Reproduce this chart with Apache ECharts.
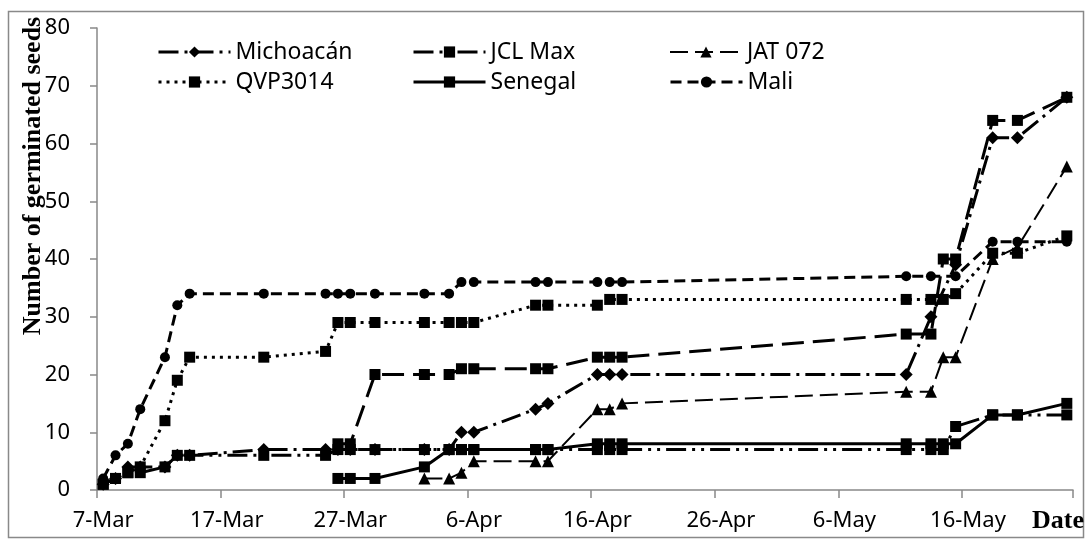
<!DOCTYPE html>
<html><head><meta charset="utf-8">
<script src="https://cdn.jsdelivr.net/npm/echarts@6/dist/echarts.min.js"></script>
<style>html,body{margin:0;padding:0;background:#fff}#c{width:1087px;height:539px}</style>
</head><body><div id="c"></div>
<script>
// Observation dates (shared by all series)
const dates = ['7-Mar','8-Mar','9-Mar','10-Mar','12-Mar','13-Mar','14-Mar','20-Mar','25-Mar','26-Mar','27-Mar','29-Mar','2-Apr','4-Apr','5-Apr','6-Apr','11-Apr','12-Apr','16-Apr','17-Apr','18-Apr','11-May','13-May','14-May','15-May','18-May','20-May','24-May'];
// Number of germinated seeds per series (null = not plotted)
const michoacan = [1,2,4,4,4,6,6,7,7,7,7,7,7,7,10,10,14,15,20,20,20,20,30,null,39,61,61,68];
const jclMax    = [1,2,3,3,4,6,6,6,6,7,7,7,7,7,7,7,7,7,7,7,7,7,7,7,11,13,13,13];
const jat072    = [null,null,null,null,null,null,null,null,null,null,null,null,2,2,3,5,5,5,14,14,15,17,17,23,23,40,42,56];
const qvp3014   = [1,2,3,4,12,19,23,23,24,29,29,29,29,29,29,29,32,32,32,33,33,33,33,33,34,41,41,44];
const senegal   = [null,null,null,null,null,null,null,null,null,2,2,2,4,7,7,7,7,7,8,8,8,8,8,8,8,13,13,15];
const mali      = [2,6,8,14,23,32,34,34,34,34,34,34,34,34,36,36,36,36,36,36,36,37,37,null,37,43,43,43];
const extraSeries = [null,null,null,null,null,null,null,null,null,8,8,20,20,20,21,21,21,21,23,23,23,27,27,40,40,64,64,68];

// Date axis: one category per day from 7-Mar to 24-May, labelled every 10 days
const monthNames = ['Jan','Feb','Mar','Apr','May','Jun','Jul','Aug','Sep','Oct','Nov','Dec'];
const axisYear = 2013, axisMonth = 2, axisFirstDay = 7, axisDayCount = 79, labelEvery = 10;
const dayLabels = [];
for (let i = 0; i < axisDayCount; i++) {
  const dt = new Date(axisYear, axisMonth, axisFirstDay + i);
  dayLabels.push(dt.getDate() + '-' + monthNames[dt.getMonth()]);
}
const yTicks = {min: 0, max: 80, interval: 10};

function pairs(vals) {
  return dates.map((d, i) => [d, vals[i]]).filter(p => p[1] !== null);
}
function mk(name, vals, symbol, size, dash, width) {
  return {
    name: name, type: 'line', data: pairs(vals), symbol: symbol, symbolSize: size,
    showSymbol: true, showAllSymbol: true, connectNulls: true, animation: false,
    lineStyle: {color: '#000', width: width, type: dash, cap: 'butt'},
    itemStyle: {color: '#000', borderWidth: 0},
    emphasis: {disabled: true}
  };
}

const FONT = 'Noto Sans';
const legendBase = {
  itemWidth: 72, itemHeight: 14, padding: 0, selectedMode: false,
  lineStyle: {width: 3},
  textStyle: {fontFamily: FONT, fontSize: 23, color: '#000', lineHeight: 26}
};
const legends = [
  {data: ['Michoacán'], left: 157, top: 39},
  {data: ['JCL Max'], left: 412, top: 39},
  {data: ['JAT 072'], left: 669, top: 39, lineStyle: {width: 2}},
  {data: ['QVP3014'], left: 157, top: 69},
  {data: ['Senegal'], left: 412, top: 69},
  {data: ['Mali'], left: 669, top: 69}
].map(l => Object.assign({}, legendBase, l));

const every = (idx) => idx % labelEvery === 0;

const chart = echarts.init(document.getElementById('c'), null, {renderer: 'canvas'});
chart.setOption({
  backgroundColor: '#fff',
  animation: false,
  grid: {left: 97, right: 14, top: 28, bottom: 49, containLabel: false},
  legend: legends,
  xAxis: {
    type: 'category', data: dayLabels, boundaryGap: true,
    axisLine: {show: true, lineStyle: {color: '#898989', width: 1.5}},
    axisTick: {show: true, interval: every, length: 8, lineStyle: {color: '#898989', width: 1.5}},
    axisLabel: {interval: every, fontFamily: FONT, fontSize: 22, color: '#000', margin: 20, hideOverlap: false},
    splitLine: {show: false}
  },
  yAxis: {
    type: 'value', min: yTicks.min, max: yTicks.max, interval: yTicks.interval,
    axisLine: {show: true, lineStyle: {color: '#898989', width: 1.5}},
    axisTick: {show: true, length: 7, lineStyle: {color: '#898989', width: 1.5}},
    axisLabel: {fontFamily: FONT, fontSize: 22, color: '#000', margin: 27},
    splitLine: {show: false}
  },
  series: [
    mk('Michoacán', michoacan, 'diamond', 13, [20, 6, 3, 6], 3),
    mk('JCL Max', jclMax, 'rect', 11, [20, 6, 3, 6, 3, 6], 3),
    mk('Other', extraSeries, 'rect', 11, [22, 9], 3),
    mk('JAT 072', jat072, 'triangle', 12, [18, 7], 2),
    mk('QVP3014', qvp3014, 'rect', 11, [3, 5], 3),
    mk('Senegal', senegal, 'rect', 11, 'solid', 3),
    mk('Mali', mali, 'circle', 10, [11, 6], 3)
  ],
  graphic: [
    {type: 'rect', silent: true, shape: {x: 8.5, y: 11.5, width: 1075, height: 526},
     style: {fill: 'none', stroke: '#898989', lineWidth: 1.5}},
    {type: 'text', silent: true, x: 33, y: 176, rotation: Math.PI / 2,
     style: {text: 'Number of germinated seeds', font: 'bold 26px "Liberation Serif"', fill: '#000',
             align: 'center', verticalAlign: 'middle', textAlign: 'center', textVerticalAlign: 'middle'}},
    {type: 'text', silent: true, x: 1032, y: 521,
     style: {text: 'Date', font: 'bold 26px "Liberation Serif"', fill: '#000',
             align: 'left', verticalAlign: 'middle', textAlign: 'left', textVerticalAlign: 'middle'}}
  ]
});
</script></body></html>
